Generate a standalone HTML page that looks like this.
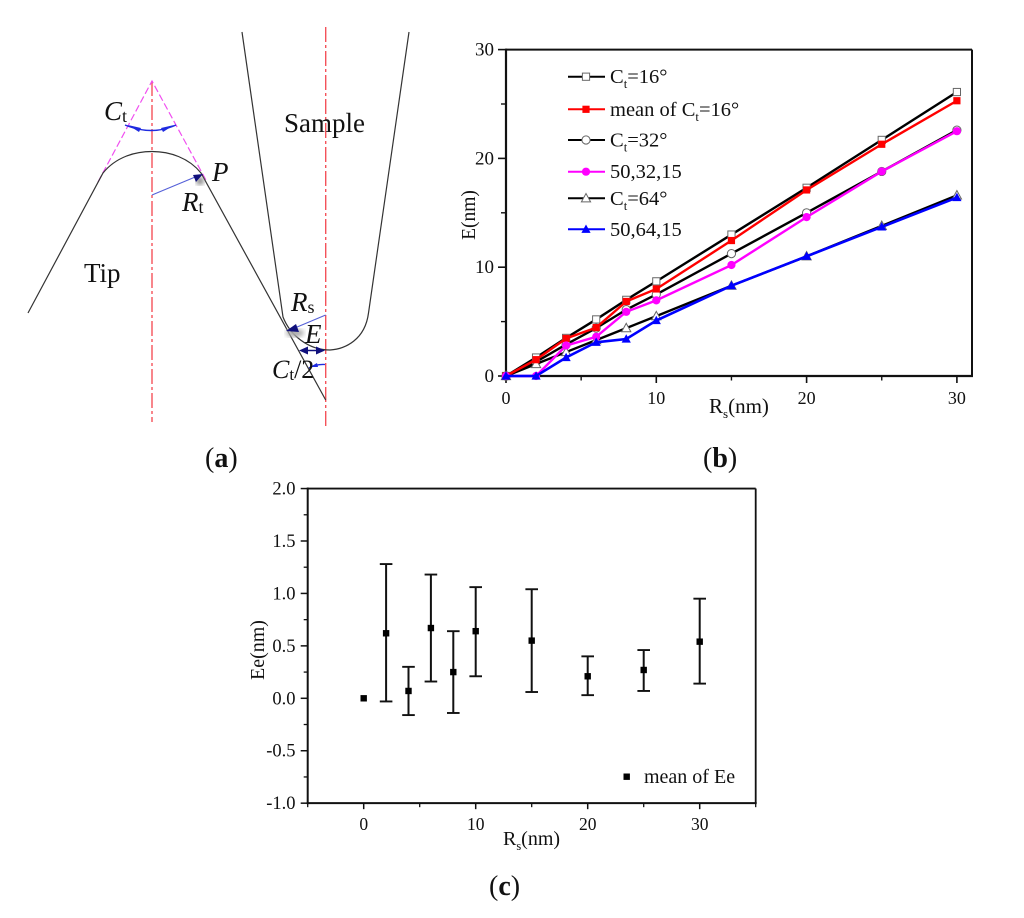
<!DOCTYPE html>
<html>
<head>
<meta charset="utf-8">
<title>Tip-sample geometry and error charts</title>
<style>
html,body{margin:0;padding:0;background:#fff;}
svg{display:block;}
text{font-family:"Liberation Serif",serif;fill:#111;}
</style>
</head>
<body>
<svg id="fig" width="1024" height="918" viewBox="0 0 1024 918" xmlns="http://www.w3.org/2000/svg">
  <defs>
    <filter id="soft"><feGaussianBlur stdDeviation="2.5"/></filter>
  </defs>
  <g id="panel-a">
    <path d="M152 81V422" fill="none" stroke="#f4525a" stroke-width="1.4" stroke-dasharray="15 3 3 3"/>
    <path d="M325.7 27V427" fill="none" stroke="#f4525a" stroke-width="1.4" stroke-dasharray="15 3 3 3"/>
    <path d="M98 182L152 81L207 182" fill="none" stroke="#f04ff0" stroke-width="1.2" stroke-dasharray="7 3"/>
    <path d="M28 313L103 173C116 157 135 151.5 152 151.5C170 151.5 189 158 201 173L325.7 400" fill="none" stroke="#333" stroke-width="1.2"/>
    <path d="M242 32L283 317C290 335 308 350 330 350C345 349 365 340 368.5 313L409 32" fill="none" stroke="#333" stroke-width="1.2"/>
    <ellipse cx="200" cy="181" rx="4" ry="4" fill="#888" filter="url(#soft)"/>
    <ellipse cx="295" cy="333" rx="9" ry="4" fill="#aaa" filter="url(#soft)"/>
    <path d="M125 125Q152 136 176 125" fill="none" stroke="#1f2be0" stroke-width="1.4"/>
    <path d="M128 125L141 128L139 132Z" fill="#1f2be0"/>
    <path d="M174 125L161 128L163 132Z" fill="#1f2be0"/>
    <path d="M152 195L200 175" stroke="#5560d8" stroke-width="1.1"/>
    <path d="M203 174L193 175L196 182Z" fill="#10107c"/>
    <path d="M325.7 315L290 330" stroke="#5560d8" stroke-width="1.1"/>
    <path d="M286 331L296 324L299 332Z" fill="#10107c"/>
    <path d="M301 350.5H323" stroke="#10107c" stroke-width="1.4"/>
    <path d="M299 350.5L308 346.5V354.5Z" fill="#10107c"/>
    <path d="M325 350.5L316 346.5V354.5Z" fill="#10107c"/>
    <path d="M309 368Q316 364 325 364.5" fill="none" stroke="#1f2be0" stroke-width="1.3"/>
    <path d="M310 367L317 363L318 367Z" fill="#1f2be0"/>
    <text x="104" y="120" font-size="27" font-style="italic">C<tspan font-size="18" font-style="normal" dy="2">t</tspan></text>
    <text x="212" y="181" font-size="27" font-style="italic">P</text>
    <text x="182" y="211" font-size="27" font-style="italic">R<tspan font-size="18" font-style="normal" dy="2">t</tspan></text>
    <text x="84" y="282" font-size="27">Tip</text>
    <text x="284" y="132" font-size="27">Sample</text>
    <text x="291" y="311" font-size="27" font-style="italic">R<tspan font-size="18" font-style="normal" dy="2">s</tspan></text>
    <text x="305" y="343" font-size="27" font-style="italic">E</text>
    <text x="272" y="378" font-size="26" font-style="italic">C<tspan font-size="17" font-style="normal" dy="2">t</tspan><tspan font-style="normal" dy="-2">/2</tspan></text>
    <text x="205" y="467" font-size="28"><tspan>(</tspan><tspan font-weight="bold">a</tspan><tspan>)</tspan></text>
  </g>
  <text x="703" y="467" font-size="28"><tspan>(</tspan><tspan font-weight="bold">b</tspan><tspan>)</tspan></text>
  <text x="489" y="895" font-size="28"><tspan>(</tspan><tspan font-weight="bold">c</tspan><tspan>)</tspan></text>
  <g id="chart-b"></g>
  <g id="chart-c"></g>
</svg>
<script>
// Chart (b) data
const rsValues = [0, 2, 4, 6, 8, 10, 15, 20, 25, 30];
const eCt16 = [0, 1.7, 3.5, 5.2, 7.0, 8.7, 13.0, 17.3, 21.7, 26.1];
const eMean16 = [0, 1.5, 3.45, 4.45, 6.85, 8.0, 12.45, 17.1, 21.3, 25.3];
const eCt32 = [0, 1.3, 2.9, 4.4, 6.1, 7.5, 11.25, 15.0, 18.8, 22.6];
const e503215 = [0, 0, 2.8, 3.6, 5.9, 6.95, 10.2, 14.6, 18.8, 22.5];
const eCt64 = [0, 1.1, 2.2, 3.3, 4.4, 5.5, 8.3, 11.0, 13.8, 16.6];
const e506415 = [0, 0, 1.7, 3.1, 3.4, 5.1, 8.3, 11.0, 13.7, 16.4];
const bSeriesLabels = ['Ct=16°', 'mean of Ct=16°', 'Ct=32°', '50,32,15', 'Ct=64°', '50,64,15'];
const bXTicks = [0, 10, 20, 30];
const bYTicks = [0, 10, 20, 30];
// Chart (c) data
const rsError = [0, 2, 4, 6, 8, 10, 15, 20, 25, 30];
const eeMean = [0, 0.62, 0.07, 0.67, 0.25, 0.64, 0.55, 0.21, 0.27, 0.54];
const eeUpper = [null, 1.28, 0.30, 1.18, 0.64, 1.06, 1.04, 0.40, 0.46, 0.95];
const eeLower = [null, -0.03, -0.16, 0.16, -0.14, 0.21, 0.06, 0.03, 0.07, 0.14];
const cXTicks = [0, 10, 20, 30];
const cYTicks = ['-1.0', '-0.5', '0.0', '0.5', '1.0', '1.5', '2.0'];

const NS = 'http://www.w3.org/2000/svg';
function mk(parent, tag, attrs, txt) {
  const el = document.createElementNS(NS, tag);
  for (const k in attrs) el.setAttribute(k, attrs[k]);
  if (txt !== undefined) el.textContent = txt;
  parent.appendChild(el);
  return el;
}
function line(parent, x1, y1, x2, y2, color, w, name) {
  const el = mk(parent, 'line', {x1, y1, x2, y2, stroke: color, 'stroke-width': w});
  
  
  return el;
}
function label(parent, x, y, size, anchor, str, name, transform) {
  const a = {x, y, 'font-size': size, 'text-anchor': anchor};
  if (transform) a.transform = transform;
  const el = mk(parent, 'text', a, str);
  
  
  return el;
}
function marker(parent, kind, cx, cy, stroke, fill, name) {
  let el;
  if (kind === 'square') {
    el = mk(parent, 'rect', {x: cx - 3.6, y: cy - 3.6, width: 7.2, height: 7.2, fill, stroke, 'stroke-width': fill === '#fff' ? 1 : 0});
  } else if (kind === 'circle') {
    el = mk(parent, 'circle', {cx, cy, r: 4.1, fill, stroke, 'stroke-width': fill === '#fff' ? 1 : 0});
  } else {
    const p = (cx - 4.6) + ',' + (cy + 3.6) + ' ' + (cx + 4.6) + ',' + (cy + 3.6) + ' ' + cx + ',' + (cy - 4.8);
    el = mk(parent, 'polygon', {points: p, fill, stroke, 'stroke-width': fill === '#fff' ? 1 : 0});
  }
  
  
  return el;
}
function subLabel(parent, x, y, size, str, name) {
  // Renders "Ct" / "Rs" style text with a lowered subscript on the letter after C or R.
  const el = mk(parent, 'text', {x, y, 'font-size': size});
  
  
  const m = str.match(/^(.*?[CR])([ts])(.*)$/);
  if (!m) { el.textContent = str; return el; }
  mk(el, 'tspan', {}, m[1]);
  mk(el, 'tspan', {'font-size': size * 0.62, dy: 5}, m[2]);
  mk(el, 'tspan', {dy: -5}, m[3]);
  return el;
}

// ---------- Chart (b) ----------
const gb = document.getElementById('chart-b');
const bx = v => 506 + v * 15.03;
const by = v => 376 - v * 10.88;
const bRight = 972;
const bTop = by(30);
const axisB = '#111';
line(gb, 506, bTop, bRight, bTop, axisB, 2, 'top-border');
line(gb, bRight, bTop, bRight, 376, axisB, 2, 'right-border');
line(gb, 506, bTop - 1, 506, 377, axisB, 2.2, 'y-axis');
line(gb, 505, 376, bRight + 1, 376, axisB, 2.2, 'x-axis');
bXTicks.forEach(t => {
  line(gb, bx(t), 376, bx(t), 383, axisB, 1.6, 'x-tick');
  label(gb, bx(t), 404, 18, 'middle', String(t), 'x-tick-label');
  if (t < 30) line(gb, bx(t + 5), 376, bx(t + 5), 380.5, axisB, 1.4, 'x-minor-tick');
});
bYTicks.forEach(t => {
  line(gb, 506, by(t), 498, by(t), axisB, 1.6, 'y-tick');
  label(gb, 494, by(t) + 6, 19, 'end', String(t), 'y-tick-label');
  if (t < 30) line(gb, 506, by(t + 5), 501, by(t + 5), axisB, 1.4, 'y-minor-tick');
});
label(gb, 475, 215, 19.5, 'middle', 'E(nm)', 'y-axis-title', 'rotate(-90 475 215)');
subLabel(gb, 709, 413, 21, 'Rs(nm)', 'x-axis-title');

const bSeries = [
  {vals: eCt16, color: '#000', stroke: '#666', fill: '#fff', kind: 'square', w: 2.4, name: 'ct16'},
  {vals: eCt32, color: '#000', stroke: '#666', fill: '#fff', kind: 'circle', w: 2.4, name: 'ct32'},
  {vals: eCt64, color: '#000', stroke: '#666', fill: '#fff', kind: 'triangle', w: 2.4, name: 'ct64'},
  {vals: eMean16, color: '#f00', stroke: '#f00', fill: '#f00', kind: 'square', w: 2.4, name: 'mean-ct16'},
  {vals: e503215, color: '#f0f', stroke: '#f0f', fill: '#f0f', kind: 'circle', w: 2.4, name: '50-32-15'},
  {vals: e506415, color: '#00f', stroke: '#00f', fill: '#00f', kind: 'triangle', w: 2.6, name: '50-64-15'}
];
bSeries.forEach(s => {
  const g = mk(gb, 'g', {});
  
  
  const pts = rsValues.map((r, i) => bx(r) + ',' + by(s.vals[i])).join(' ');
  const pl = mk(g, 'polyline', {points: pts, fill: 'none', stroke: s.color, 'stroke-width': s.w});
  
  
  rsValues.forEach((r, i) => {
    marker(g, s.kind, bx(r), by(s.vals[i]), s.stroke, s.fill, 'point-' + s.name);
  });
});

const legendRows = [76.7, 109.3, 140, 171.7, 198.3, 229.3];
const legendStyle = [
  {color: '#000', stroke: '#666', fill: '#fff', kind: 'square'},
  {color: '#f00', stroke: '#f00', fill: '#f00', kind: 'square'},
  {color: '#000', stroke: '#666', fill: '#fff', kind: 'circle'},
  {color: '#f0f', stroke: '#f0f', fill: '#f0f', kind: 'circle'},
  {color: '#000', stroke: '#666', fill: '#fff', kind: 'triangle'},
  {color: '#00f', stroke: '#00f', fill: '#00f', kind: 'triangle'}
];
bSeriesLabels.forEach((txt, i) => {
  const y = legendRows[i];
  const st = legendStyle[i];
  const g = mk(gb, 'g', {});
  
  
  line(g, 568, y, 605, y, st.color, 2, 'legend-line');
  marker(g, st.kind, 586, y, st.stroke, st.fill, 'legend-marker');
  subLabel(g, 610, y + 6.5, 20.5, txt, 'legend-label');
});

// ---------- Chart (c) ----------
const gc = document.getElementById('chart-c');
const cx = v => 363.7 + v * 11.2;
const cy = v => 698.3 - v * 104.87;
const cLeft = cx(-5), cRight = cx(35), cTop = cy(2), cBottom = cy(-1);
line(gc, cLeft, cTop, cRight, cTop, axisB, 1.8, 'top-border');
line(gc, cRight, cTop, cRight, cBottom, axisB, 1.8, 'right-border');
line(gc, cLeft, cTop - 1, cLeft, cBottom + 1, axisB, 2, 'y-axis');
line(gc, cLeft - 1, cBottom, cRight + 1, cBottom, axisB, 2, 'x-axis');
cXTicks.forEach(t => {
  line(gc, cx(t), cBottom, cx(t), cBottom + 6, axisB, 1.5, 'x-tick');
  label(gc, cx(t), 830, 17.5, 'middle', String(t), 'x-tick-label');
  line(gc, cx(t + 5), cBottom, cx(t + 5), cBottom + 4, axisB, 1.3, 'x-minor-tick');
});
line(gc, cx(-5), cBottom, cx(-5), cBottom + 4, axisB, 1.3, 'x-minor-tick');
cYTicks.forEach((t, i) => {
  const v = parseFloat(t);
  line(gc, cLeft, cy(v), cLeft - 7, cy(v), axisB, 1.5, 'y-tick');
  label(gc, 295.5, cy(v) + 6, 18.5, 'end', t, 'y-tick-label');
  if (i < cYTicks.length - 1) line(gc, cLeft, cy(v + 0.25), cLeft - 4, cy(v + 0.25), axisB, 1.3, 'y-minor-tick');
});
label(gc, 264, 650, 20, 'middle', 'Ee(nm)', 'y-axis-title', 'rotate(-90 264 650)');
subLabel(gc, 503, 845, 20, 'Rs(nm)', 'x-axis-title');

rsError.forEach((r, i) => {
  const g = mk(gc, 'g', {});
  
  
  if (eeUpper[i] !== null) {
    line(g, cx(r), cy(eeUpper[i]), cx(r), cy(eeLower[i]), '#111', 2, 'error-bar');
    line(g, cx(r) - 6.3, cy(eeUpper[i]), cx(r) + 6.3, cy(eeUpper[i]), '#111', 1.9, 'error-cap-upper');
    line(g, cx(r) - 6.3, cy(eeLower[i]), cx(r) + 6.3, cy(eeLower[i]), '#111', 1.9, 'error-cap-lower');
  }
  const m = mk(g, 'rect', {x: cx(r) - 3.2, y: cy(eeMean[i]) - 3.2, width: 6.4, height: 6.4, fill: '#000'});
  
  
});
const cm = mk(gc, 'rect', {x: 623.5, y: 773.5, width: 6.4, height: 6.4, fill: '#000'});


label(gc, 644, 783, 20, 'start', 'mean of Ee', 'legend-label');
</script>
</body>
</html>
